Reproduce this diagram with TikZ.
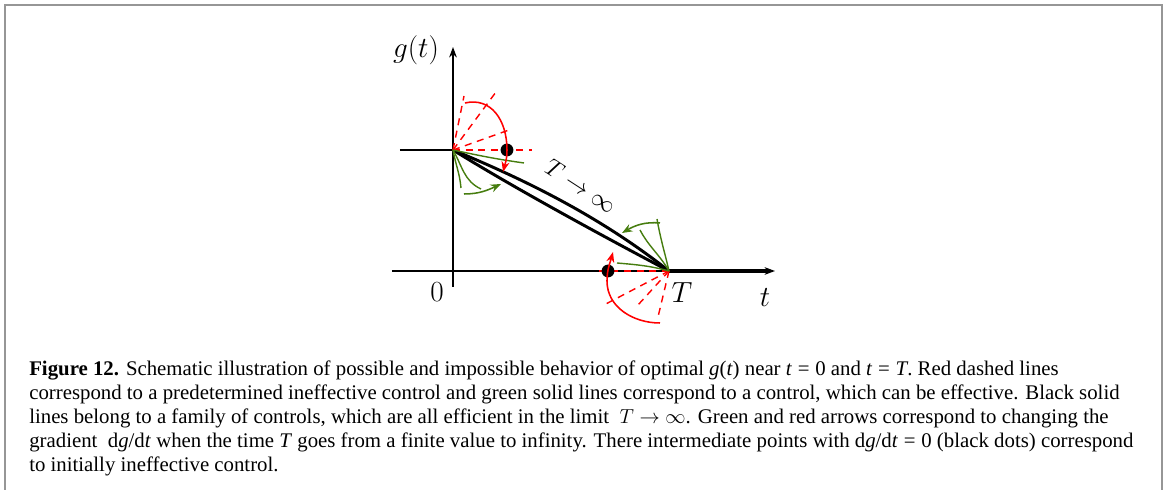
\documentclass[tikz,border=0pt]{standalone}
\usepackage{fontspec}
\setmainfont{Liberation Serif}
\usepackage{amsmath}
\usetikzlibrary{arrows.meta,calc}
\definecolor{ctrlred}{RGB}{255,0,0}
\definecolor{ctrlgreen}{RGB}{70,125,15}
\definecolor{framegray}{RGB}{150,150,150}
\tikzset{
    sketch/.style     = {x=0.025cm, y=0.025cm, >={Stealth[length=2.6mm, width=1.9mm]}},
    axis/.style       = {line width=1.4pt},
    family/.style     = {line width=2.1pt},
    thickline/.style  = {line width=2.8pt},
    ineffective/.style= {ctrlred, dashed, line width=1pt, dash pattern=on 5pt off 4pt},
    effective/.style  = {ctrlgreen, line width=1pt},
    redturn/.style    = {ctrlred, line width=1.1pt, ->, >={Stealth[length=2.6mm, width=2mm]}},
    greenturn/.style  = {ctrlgreen, line width=1.1pt, ->, >={Stealth[length=2.6mm, width=2mm]}},
    dot/.style        = {circle, fill, inner sep=0pt, minimum size=3.2mm},
    axislab/.style    = {font=\fontsize{22}{26}\selectfont},
    caption/.style    = {anchor=base west, inner sep=0pt, font=\fontsize{14.8}{17}\selectfont},
    frame/.style      = {framegray, line width=1.6pt}
}

\begin{document}
\begin{tikzpicture}[sketch]
\useasboundingbox (-453,-219) rectangle (713,271);

% ================= Frame =================
\coordinate (fbl) at (-448,-219);
\coordinate (ftr) at (709,266);
\coordinate (fbr) at (709,-219);
\draw[frame] (fbl) |- (ftr) -- (fbr);

% ================= Axes =================
\coordinate (O)    at (0,0);
\coordinate (ybot) at (0,-16);
\coordinate (ytop) at (0,224);
\coordinate (tleft) at (-61,0);
\coordinate (tright) at (322,0);
\coordinate (A)    at (0,121);   % g(0)
\coordinate (T)    at (216,0);   % t = T
\coordinate (gleft) at (-53,121);

\draw[axis, ->] (ybot) -- (ytop);
\draw[axis] (tleft) -- (T);
\draw[thickline, ->] (T) -- (tright);
\draw[family] (gleft) -- (A);

\node[axislab] (glab) at (-37,221) {$g(t)$};
\node[axislab] (zero) at (-16,-21) {$0$};
\node[axislab] (Tlab) at (229,-22) {$T$};
\node[axislab] (tlab) at (312,-27) {$t$};

% ================= Family of controls =================
\draw[family] (A) .. controls (60,96) and (140,60) .. (T);
\draw[family] (A) .. controls (50,90) and (125,48) .. (T);
\node[font=\fontsize{17}{20}\selectfont, rotate=-33] (limit) at (128,85) {$T\rightarrow\infty$};

% ================= Near t = 0 =================
\draw[ineffective] (A) -- ++(11,54);
\draw[ineffective] (A) -- ++(43,58);
\draw[ineffective] (A) -- ++(56,20);
\draw[ineffective] (A) -- ++(79,0);
\draw[effective] (A) to[out=-12, in=172] ++(71,-13);
\draw[effective] (A) to[out=-60, in=155] ++(28,-39);
\draw[effective] (A) to[out=-80, in=95] ++(8,-38);
\node[dot] (dot0) at ($(A)+(54,0)$) {};
\draw[redturn] ($(A)+(12,47)$) .. controls +(26,6) and +(0,30) .. (dot0.center)
    .. controls +(0,-10) and +(2,8) .. ($(A)+(50,-22)$);
\draw[greenturn] ($(A)+(11,-44)$) to[out=0, in=205] ($(A)+(48,-34)$);

% ================= Near t = T =================
\draw[ineffective] (T) -- ++(-67,-35);
\draw[ineffective] (T) -- ++(-31,-34);
\draw[ineffective] (T) -- ++(-11,-46);
\draw[ineffective] (T) -- ++(-75,0);
\draw[effective] (T) to[out=165, in=-5] ++(-52,8);
\draw[effective] (T) to[out=120, in=-62] ++(-29,41);
\draw[effective] (T) to[out=103, in=-80] ++(-12,52);
\node[dot] (dotT) at ($(T)+(-61,0)$) {};
\draw[redturn] ($(T)+(-9,-52)$) to[out=180, in=-90] ($(T)+(-62,-10)$)
    to[out=90, in=-105] ($(T)+(-56,19)$);
\draw[greenturn] ($(T)+(-9,48)$) to[out=175, in=30] ($(T)+(-47,38)$);

% ================= Caption =================
\node[caption] (cap1) at (-424,-105) {\textbf{Figure 12.} Schematic illustration of possible and impossible behavior of optimal \textit{g}(\textit{t}) near \textit{t}\;=\;0 and \textit{t}\;=\;\textit{T}. Red dashed lines};
\node[caption] (cap2) at (-424,-129) {correspond to a predetermined ineffective control and green solid lines correspond to a control, which can be effective. Black solid};
\node[caption] (cap3) at (-424,-153) {lines belong to a family of controls, which are all efficient in the limit \ $T\rightarrow\infty$. Green and red arrows correspond to changing the};
\node[caption] (cap4) at (-424,-177) {gradient \ d\textit{g}/d\textit{t} when the time \textit{T} goes from a finite value to infinity. There intermediate points with d\textit{g}/d\textit{t}\;=\;0 (black dots) correspond};
\node[caption] (cap5) at (-424,-201) {to initially ineffective control.};

\end{tikzpicture}
\end{document}
